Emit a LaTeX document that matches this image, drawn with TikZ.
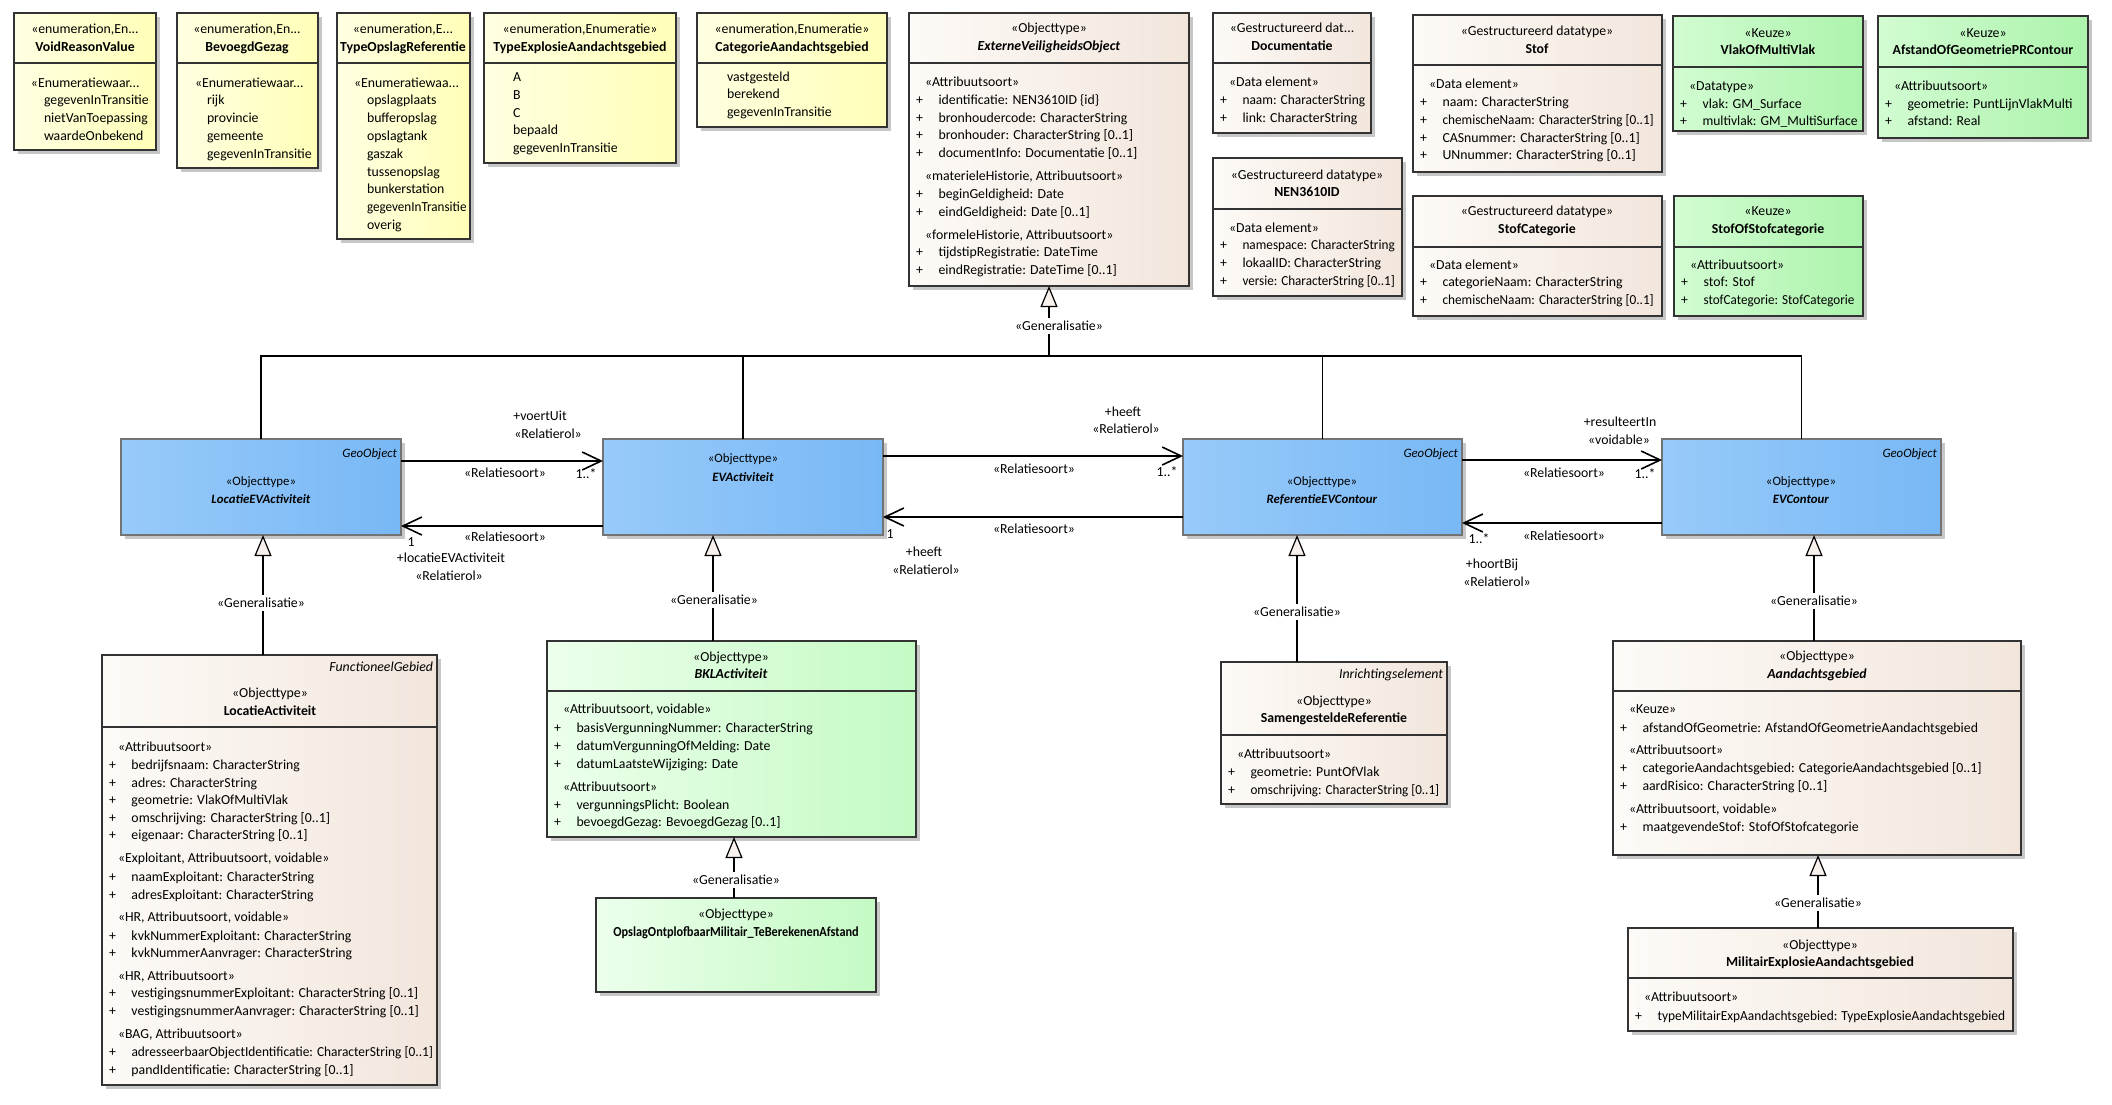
\documentclass[tikz,border=0pt]{standalone}
\usepackage{fontspec}
\setmainfont{Carlito}
\usetikzlibrary{arrows.meta,shadows,calc}
\definecolor{enumL}{RGB}{255,255,226}
\definecolor{enumR}{RGB}{255,255,184}
\definecolor{beigeL}{RGB}{253,250,247}
\definecolor{beigeR}{RGB}{242,230,220}
\definecolor{keuzeL}{RGB}{210,252,210}
\definecolor{keuzeR}{RGB}{172,243,172}
\definecolor{bklL}{RGB}{236,255,236}
\definecolor{bklR}{RGB}{196,250,196}
\definecolor{blueL}{RGB}{152,202,250}
\definecolor{blueR}{RGB}{120,184,245}
\definecolor{trifill}{RGB}{247,240,236}
\newcounter{tn}
\newcommand\Hc[3]{\stepcounter{tn}\node[txt,anchor=base] (t\arabic{tn}) at (#1,#2+4.6) {#3};}
\newcommand\Hl[3]{\stepcounter{tn}\node[txt,anchor=base west] (t\arabic{tn}) at (#1,#2+4.6) {#3};}
\newcommand\Hr[3]{\stepcounter{tn}\node[txt,anchor=base east] (t\arabic{tn}) at (#1,#2+4.6) {#3};}
\newcommand\St[3]{\Hl{#1+16}{#2}{#3}}
\newcommand\At[3]{\Hl{#1+7}{#2}{\makebox[11.25pt][l]{+}#3}}
\newcommand\Sq[2]{\scalebox{#1}[1]{#2}}
\newcommand\Bx[7][]{\node[box,#1,anchor=north west,minimum width={(#5-#3)*0.5pt},minimum height={(#6-#4)*0.5pt}] (#2) at (#3,#4) {};
 \ifnum#7>0 \draw[sep] (#3,#7) -- (#5,#7);\fi}
\newcommand\bsm{\fontsize{6.4pt}{7.5pt}\selectfont}
\begin{document}
\begin{tikzpicture}[x=0.5pt,y=-0.5pt,
 txt/.style={inner sep=0pt,outer sep=0pt,font=\fontsize{6.9pt}{8.9pt}\selectfont},
 box/.style={draw=black!80,line width=0.6pt,outer sep=0pt,inner sep=0pt,
   drop shadow={shadow xshift=2pt,shadow yshift=-2pt,fill=black!22,opacity=1}},
 enum/.style={left color=enumL,right color=enumR},
 beige/.style={left color=beigeL,right color=beigeR},
 keuze/.style={left color=keuzeL,right color=keuzeR},
 bkl/.style={left color=bklL,right color=bklR},
 blue/.style={left color=blueL,right color=blueR,draw=black!55},
 sep/.style={draw=black!80,line width=0.6pt},
 genline/.style={draw=black,line width=0.7pt},
 gen/.style={genline,-{Triangle[length=10.5pt,width=8.5pt,fill=trifill,line width=0.6pt]}},
 assoc/.style={draw=black,line width=0.8pt,-{Straight Barb[length=9.5pt,width=9pt,line width=0.8pt]}},
 glabel/.style={txt,fill=white,inner sep=1.5pt}]
\useasboundingbox (0,0) rectangle (2112,1104);
\fill[white] (0,0) rectangle (2112,1104);

% ---------- enumerations ----------
\Bx[enum]{VRV}{14}{13}{156}{150}{63}
\Hc{85}{29}{«enumeration,En...}
\Hc{85}{47}{\textbf{VoidReasonValue}}
\Hl{31}{83}{«Enumeratiewaar...}
\Hl{44}{100}{gegevenInTransitie}
\Hl{44}{118}{nietVanToepassing}
\Hl{44}{136}{waardeOnbekend}

\Bx[enum]{BG}{177}{13}{318}{168}{63}
\Hc{247}{29}{«enumeration,En...}
\Hc{247}{47}{\textbf{BevoegdGezag}}
\Hl{195}{83}{«Enumeratiewaar...}
\Hl{207}{100}{rijk}
\Hl{207}{118}{provincie}
\Hl{207}{136}{gemeente}
\Hl{207}{154}{gegevenInTransitie}

\Bx[enum]{TOR}{337}{13}{470}{239}{63}
\Hc{403}{29}{«enumeration,E...}
\Hc{403}{47}{\textbf{TypeOpslagReferentie}}
\Hl{354}{83}{«Enumeratiewaa...}
\Hl{367}{100}{opslagplaats}
\Hl{367}{118}{bufferopslag}
\Hl{367}{136}{opslagtank}
\Hl{367}{154}{gaszak}
\Hl{367}{172}{tussenopslag}
\Hl{367}{189}{bunkerstation}
\Hl{367}{207}{\Sq{0.95}{gegevenInTransitie}}
\Hl{367}{225}{overig}

\Bx[enum]{TEA}{484}{13}{676}{163}{63}
\Hc{580}{29}{«enumeration,Enumeratie»}
\Hc{580}{47}{\textbf{TypeExplosieAandachtsgebied}}
\Hl{513}{77}{A}
\Hl{513}{95}{B}
\Hl{513}{113}{C}
\Hl{513}{130}{bepaald}
\Hl{513}{148}{gegevenInTransitie}

\Bx[enum]{CAG}{697}{13}{887}{127}{63}
\Hc{792}{29}{«enumeration,Enumeratie»}
\Hc{792}{47}{\textbf{CategorieAandachtsgebied}}
\Hl{727}{77}{vastgesteld}
\Hl{727}{94}{berekend}
\Hl{727}{112}{gegevenInTransitie}

% ---------- ExterneVeiligheidsObject ----------
\Bx[beige]{EVO}{909}{13}{1189}{286}{63}
\Hc{1049}{28}{«Objecttype»}
\Hc{1049}{46}{\textbf{\textit{ExterneVeiligheidsObject}}}
\St{909}{82}{«Attribuutsoort»}
\At{909}{100}{identificatie: NEN3610ID \{id\}}
\At{909}{118}{bronhoudercode: CharacterString}
\At{909}{135}{bronhouder: CharacterString [0..1]}
\At{909}{153}{documentInfo: Documentatie [0..1]}
\St{909}{176}{«materieleHistorie, Attribuutsoort»}
\At{909}{194}{beginGeldigheid: Date}
\At{909}{212}{eindGeldigheid: Date [0..1]}
\St{909}{235}{«formeleHistorie, Attribuutsoort»}
\At{909}{252}{tijdstipRegistratie: DateTime}
\At{909}{270}{eindRegistratie: DateTime [0..1]}

% ---------- datatypes ----------
\Bx[beige]{DOC}{1213}{13}{1371}{133}{63}
\Hc{1292}{28}{«Gestructureerd dat...}
\Hc{1292}{46}{\textbf{Documentatie}}
\St{1213}{82}{«Data element»}
\At{1213}{100}{\Sq{0.97}{naam: CharacterString}}
\At{1213}{118}{link: CharacterString}

\Bx[beige]{NEN}{1213}{158}{1402}{296}{209}
\Hc{1307}{175}{«Gestructureerd datatype»}
\Hc{1307}{192}{\textbf{NEN3610ID}}
\St{1213}{228}{«Data element»}
\At{1213}{245}{\Sq{0.96}{namespace: CharacterString}}
\At{1213}{263}{lokaalID: CharacterString}
\At{1213}{281}{\Sq{0.95}{versie: CharacterString [0..1]}}

\Bx[beige]{STOF}{1413}{15}{1662}{172}{65}
\Hc{1537}{31}{«Gestructureerd datatype»}
\Hc{1537}{49}{\textbf{Stof}}
\St{1413}{84}{«Data element»}
\At{1413}{102}{naam: CharacterString}
\At{1413}{120}{\Sq{0.96}{chemischeNaam: CharacterString [0..1]}}
\At{1413}{138}{CASnummer: CharacterString [0..1]}
\At{1413}{155}{UNnummer: CharacterString [0..1]}

\Bx[beige]{SCAT}{1413}{196}{1662}{316}{247}
\Hc{1537}{211}{«Gestructureerd datatype»}
\Hc{1537}{229}{\textbf{StofCategorie}}
\St{1413}{265}{«Data element»}
\At{1413}{282}{categorieNaam: CharacterString}
\At{1413}{300}{\Sq{0.96}{chemischeNaam: CharacterString [0..1]}}

% ---------- Keuze ----------
\Bx[keuze]{VMV}{1673}{16}{1863}{131}{67}
\Hc{1768}{33}{«Keuze»}
\Hc{1768}{50}{\textbf{VlakOfMultiVlak}}
\St{1673}{86}{«Datatype»}
\At{1673}{104}{vlak: GM\_Surface}
\At{1673}{121}{\Sq{0.98}{multivlak: GM\_MultiSurface}}

\Bx[keuze]{AGP}{1878}{16}{2088}{138}{67}
\Hc{1983}{33}{«Keuze»}
\Hc{1983}{50}{\textbf{AfstandOfGeometriePRContour}}
\St{1878}{86}{«Attribuutsoort»}
\At{1878}{104}{geometrie: PuntLijnVlakMulti}
\At{1878}{121}{afstand: Real}

\Bx[keuze]{SOS}{1674}{196}{1863}{316}{247}
\Hc{1768}{211}{«Keuze»}
\Hc{1768}{229}{\textbf{StofOfStofcategorie}}
\St{1674}{265}{«Attribuutsoort»}
\At{1674}{282}{stof: Stof}
\At{1674}{300}{\Sq{0.95}{stofCategorie: StofCategorie}}

% ---------- blue objecttypes ----------
\Bx[blue]{LocEV}{121}{439}{401}{535}{0}
\Hr{397}{453}{\bsm\textit{GeoObject}}
\Hc{261}{481}{\bsm «Objecttype»}
\Hc{261}{499}{\bsm\textbf{\textit{LocatieEVActiviteit}}}

\Bx[blue]{EVA}{603}{439}{883}{535}{0}
\Hc{743}{458}{\bsm «Objecttype»}
\Hc{743}{477}{\bsm\textbf{\textit{EVActiviteit}}}

\Bx[blue]{REF}{1183}{439}{1462}{535}{0}
\Hr{1458}{453}{\bsm\textit{GeoObject}}
\Hc{1322}{481}{\bsm «Objecttype»}
\Hc{1322}{499}{\bsm\textbf{\textit{ReferentieEVContour}}}

\Bx[blue]{EVC}{1662}{439}{1941}{535}{0}
\Hr{1937}{453}{\bsm\textit{GeoObject}}
\Hc{1801}{481}{\bsm «Objecttype»}
\Hc{1801}{499}{\bsm\textbf{\textit{EVContour}}}

% ---------- LocatieActiviteit ----------
\Bx[beige]{LA}{102}{655}{437}{1085}{727}
\Hr{433}{667}{\textit{FunctioneelGebied}}
\Hc{270}{693}{«Objecttype»}
\Hc{270}{711}{\textbf{LocatieActiviteit}}
\St{102}{747}{«Attribuutsoort»}
\At{102}{765}{bedrijfsnaam: CharacterString}
\At{102}{783}{adres: CharacterString}
\At{102}{800}{geometrie: VlakOfMultiVlak}
\At{102}{818}{omschrijving: CharacterString [0..1]}
\At{102}{835}{eigenaar: CharacterString [0..1]}
\St{102}{858}{«Exploitant, Attribuutsoort, voidable»}
\At{102}{877}{naamExploitant: CharacterString}
\At{102}{895}{adresExploitant: CharacterString}
\St{102}{917}{«HR, Attribuutsoort, voidable»}
\At{102}{936}{kvkNummerExploitant: CharacterString}
\At{102}{953}{kvkNummerAanvrager: CharacterString}
\St{102}{976}{«HR, Attribuutsoort»}
\At{102}{993}{vestigingsnummerExploitant: CharacterString [0..1]}
\At{102}{1011}{vestigingsnummerAanvrager: CharacterString [0..1]}
\St{102}{1034}{«BAG, Attribuutsoort»}
\At{102}{1052}{\Sq{0.97}{adresseerbaarObjectIdentificatie: CharacterString [0..1]}}
\At{102}{1070}{pandIdentificatie: CharacterString [0..1]}

% ---------- BKLActiviteit ----------
\Bx[bkl]{BKL}{547}{641}{916}{837}{691}
\Hc{731}{657}{«Objecttype»}
\Hc{731}{674}{\textbf{\textit{BKLActiviteit}}}
\St{547}{709}{«Attribuutsoort, voidable»}
\At{547}{728}{basisVergunningNummer: CharacterString}
\At{547}{746}{datumVergunningOfMelding: Date}
\At{547}{764}{datumLaatsteWijziging: Date}
\St{547}{787}{«Attribuutsoort»}
\At{547}{805}{vergunningsPlicht: Boolean}
\At{547}{822}{bevoegdGezag: BevoegdGezag [0..1]}

\Bx[bkl]{OPS}{596}{898}{876}{992}{0}
\Hc{736}{914}{«Objecttype»}
\Hc{736}{932}{\Sq{0.89}{\textbf{OpslagOntplofbaarMilitair\_TeBerekenenAfstand}}}

% ---------- SamengesteldeReferentie ----------
\Bx[beige]{SR}{1221}{662}{1447}{804}{735}
\Hr{1443}{674}{\textit{Inrichtingselement}}
\Hc{1334}{701}{«Objecttype»}
\Hc{1334}{718}{\textbf{SamengesteldeReferentie}}
\St{1221}{754}{«Attribuutsoort»}
\At{1221}{772}{geometrie: PuntOfVlak}
\At{1221}{790}{\Sq{0.95}{omschrijving: CharacterString [0..1]}}

% ---------- Aandachtsgebied ----------
\Bx[beige]{AG}{1613}{641}{2021}{855}{691}
\Hc{1817}{656}{«Objecttype»}
\Hc{1817}{674}{\textbf{\textit{Aandachtsgebied}}}
\St{1613}{709}{«Keuze»}
\At{1613}{728}{afstandOfGeometrie: AfstandOfGeometrieAandachtsgebied}
\St{1613}{750}{«Attribuutsoort»}
\At{1613}{768}{categorieAandachtsgebied: CategorieAandachtsgebied [0..1]}
\At{1613}{786}{aardRisico: CharacterString [0..1]}
\St{1613}{809}{«Attribuutsoort, voidable»}
\At{1613}{827}{maatgevendeStof: StofOfStofcategorie}

\Bx[beige]{MEA}{1628}{928}{2013}{1031}{978}
\Hc{1820}{945}{«Objecttype»}
\Hc{1820}{962}{\textbf{MilitairExplosieAandachtsgebied}}
\St{1628}{997}{«Attribuutsoort»}
\At{1628}{1016}{\Sq{0.97}{typeMilitairExpAandachtsgebied: TypeExplosieAandachtsgebied}}

% ---------- generalisations ----------
\coordinate (J) at ($(EVO.south)+(0,70)$);
\draw[genline] (LocEV.north) |- (J);
\draw[genline] (EVC.north) |- (J);
\draw[genline] (EVA.north) -- (EVA.north |- J);
\draw[genline] (REF.north) -- (REF.north |- J);
\draw[gen] (J) -- (EVO.south);
\node[glabel] (gl0) at (1059,326) {«Generalisatie»};

\coordinate (g1) at ($(LocEV.south)+(2,0)$);
\draw[gen] (g1 |- LA.north) -- (g1);
\node[glabel] (gl1) at (261,603) {«Generalisatie»};

\coordinate (g2) at ($(EVA.south west)+(110,0)$);
\draw[gen] (g2 |- BKL.north) -- (g2);
\node[glabel] (gl2) at (714,600) {«Generalisatie»};

\coordinate (g3) at ($(REF.south west)+(114,0)$);
\draw[gen] (g3 |- SR.north) -- (g3);
\node[glabel] (gl3) at (1297,612) {«Generalisatie»};

\coordinate (g4) at ($(EVC.south west)+(152,0)$);
\draw[gen] (g4 |- AG.north) -- (g4);
\node[glabel] (gl4) at (1814,601) {«Generalisatie»};

\coordinate (g5) at ($(BKL.south west)+(187,0)$);
\draw[gen] (g5 |- OPS.north) -- (g5);
\node[glabel] (gl5) at (736,880) {«Generalisatie»};

\coordinate (g6) at ($(AG.south west)+(205,0)$);
\draw[gen] (g6 |- MEA.north) -- (g6);
\node[glabel] (gl6) at (1818,903) {«Generalisatie»};

% ---------- associations ----------
\draw[assoc] ($(LocEV.north east)+(0,22)$) -- ($(EVA.north west)+(0,22)$);
\draw[assoc] ($(EVA.north west)+(0,87)$) -- ($(LocEV.north east)+(0,87)$);
\draw[assoc] ($(EVA.north east)+(0,17)$) -- ($(REF.north west)+(0,17)$);
\draw[assoc] ($(REF.north west)+(0,78)$) -- ($(EVA.north east)+(0,78)$);
\draw[assoc] ($(REF.north east)+(0,21)$) -- ($(EVC.north west)+(0,21)$);
\draw[assoc] ($(EVC.north west)+(0,84)$) -- ($(REF.north east)+(0,84)$);

\Hc{540}{416}{+voertUit}
\Hc{548}{434}{«Relatierol»}
\Hc{505}{473}{«Relatiesoort»}
\Hc{586}{474}{1..*}
\Hc{505}{537}{«Relatiesoort»}
\Hc{411}{542}{1}
\Hc{451}{558}{+locatieEVActiviteit}
\Hc{449}{576}{«Relatierol»}

\Hc{1123}{412}{+heeft}
\Hc{1126}{429}{«Relatierol»}
\Hc{1034}{469}{«Relatiesoort»}
\Hc{1167}{472}{1..*}
\Hc{1034}{529}{«Relatiesoort»}
\Hc{890}{534}{1}
\Hc{924}{552}{+heeft}
\Hc{926}{570}{«Relatierol»}

\Hc{1620}{422}{+resulteertIn}
\Hc{1619}{440}{«voidable»}
\Hc{1564}{473}{«Relatiesoort»}
\Hc{1645}{474}{1..*}
\Hc{1564}{536}{«Relatiesoort»}
\Hc{1479}{539}{1..*}
\Hc{1492}{564}{+hoortBij}
\Hc{1497}{582}{«Relatierol»}
\end{tikzpicture}
\end{document}
